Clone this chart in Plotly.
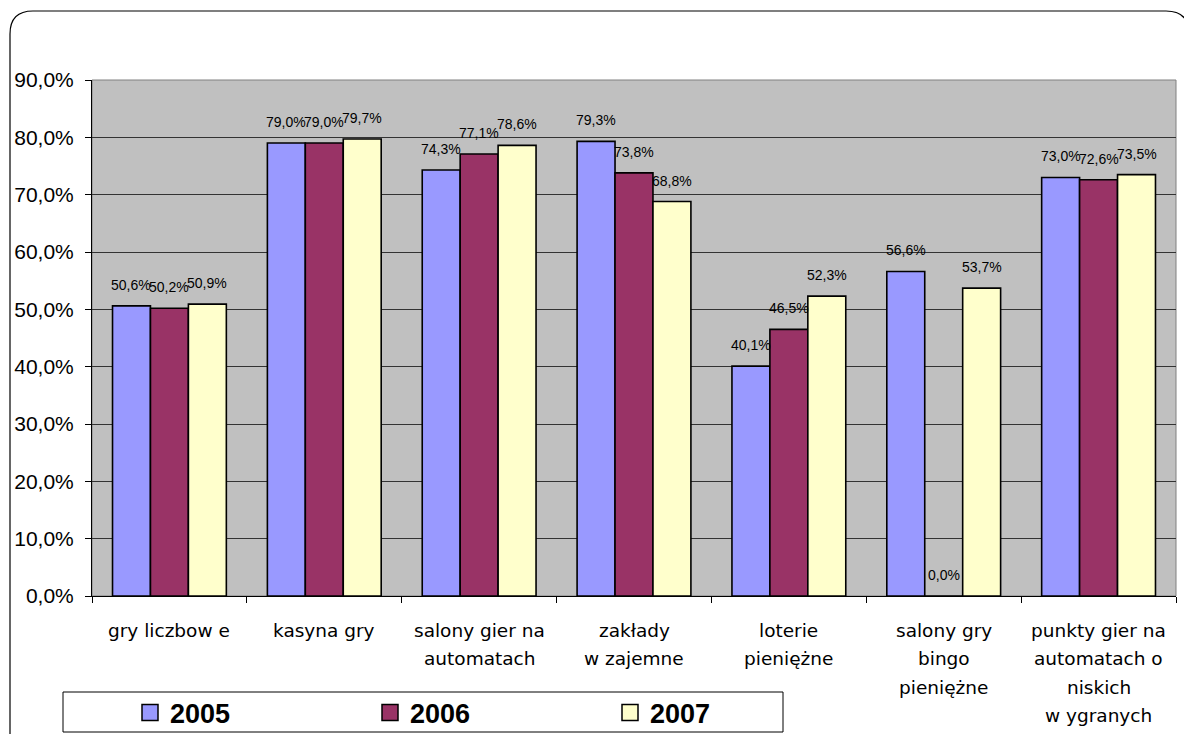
import plotly.graph_objects as go

categories = ["gry liczbow e", "kasyna gry", "salony gier na automatach", "zakłady w zajemne",
              "loterie pieniężne", "salony gry bingo pieniężne",
              "punkty gier na automatach o niskich w ygranych"]
tick_lines = [["gry liczbow e"], ["kasyna gry"], ["salony gier na", "automatach"],
              ["zakłady", "w zajemne"], ["loterie", "pieniężne"],
              ["salony gry", "bingo", "pieniężne"],
              ["punkty gier na", "automatach o", "niskich", "w ygranych"]]
series_names = ["2005", "2006", "2007"]
v2005 = [0.506, 0.790, 0.743, 0.793, 0.401, 0.566, 0.730]
v2006 = [0.502, 0.790, 0.771, 0.738, 0.465, 0.000, 0.726]
v2007 = [0.509, 0.797, 0.786, 0.688, 0.523, 0.537, 0.735]
series_values = [v2005, v2006, v2007]
colors = ["#9999FF", "#993366", "#FFFFCC"]
y_ticks = [0.0, 0.1, 0.2, 0.3, 0.4, 0.5, 0.6, 0.7, 0.8, 0.9]

FONT = "Liberation Sans, Arial, sans-serif"
CAT_FONT = "DejaVu Sans, Liberation Sans, sans-serif"

def fmt(v):
    return f"{v*100:.1f}%".replace(".", ",")

# screen geometry (page has 8px body margin)
OFF = 8
SW, SH = 1192, 734
PL, PR, PT, PB = 92, 1176, 80, 596   # plot area in screen px
pw, ph = PR - PL, PB - PT
BARGAP = 0.265
n_series = len(series_names)
bar_px = pw / len(categories) * (1 - BARGAP) / n_series

def px(xs):
    return (xs - PL) / pw

def py(ys):
    return (PB - ys) / ph

fig = go.Figure()
for name, vals, col in zip(series_names, series_values, colors):
    fig.add_trace(go.Bar(
        x=categories, y=vals, name=name, showlegend=False,
        marker=dict(color=col, line=dict(color="black", width=1.6)),
    ))
# legend keys
for name, col in zip(series_names, colors):
    fig.add_trace(go.Scatter(
        x=[categories[0]], y=[None], name=name, mode="markers",
        marker=dict(symbol="square", size=18, color=col, line=dict(color="black", width=1.5)),
        showlegend=True, hoverinfo="skip",
    ))

annotations = []
# data labels above the bars
for si, vals in enumerate(series_values):
    for cat, v in zip(categories, vals):
        annotations.append(dict(x=cat, xref="x", y=v, yref="y", text=fmt(v), showarrow=False,
                                xshift=(si - (n_series - 1) / 2) * bar_px, yshift=21,
                                yanchor="middle", xanchor="center",
                                font=dict(family=FONT, size=14, color="black")))
# category labels
for cat, lines in zip(categories, tick_lines):
    for i, line in enumerate(lines):
        annotations.append(dict(x=cat, xref="x", y=0, yref="paper", text=line,
                                showarrow=False, yanchor="middle", yshift=-34 - 28.5 * i,
                                font=dict(family=CAT_FONT, size=18.5, color="black")))

# outer rounded border
r = 23
x0, x1 = 10, 1189
y0, y1 = 11, 780
rx, ry = r / pw, r / ph
path = (f"M {px(x0)},{py(y1)} L {px(x0)},{py(y0)-ry} Q {px(x0)},{py(y0)} {px(x0)+rx},{py(y0)} "
        f"L {px(x1)-rx},{py(y0)} Q {px(x1)},{py(y0)} {px(x1)},{py(y0)-ry} L {px(x1)},{py(y1)}")

shapes = [
    dict(type="path", xref="paper", yref="paper", path=path,
         line=dict(color="black", width=1.2), layer="below"),
    dict(type="rect", xref="paper", yref="paper", x0=0, x1=1, y0=0, y1=1,
         line=dict(color="#808080", width=1), layer="below"),
    dict(type="rect", xref="paper", yref="paper", x0=px(63), x1=px(783), y0=py(732), y1=py(692),
         line=dict(color="black", width=1), fillcolor="white", layer="below"),
]

fig.update_layout(
    width=SW - OFF, height=SH - OFF,
    margin=dict(l=PL - OFF, r=SW - PR, t=PT - OFF, b=SH - PB, autoexpand=False),
    paper_bgcolor="white", plot_bgcolor="#C0C0C0",
    separators=", ",
    barmode="group", bargap=BARGAP, bargroupgap=0,
    font=dict(family=FONT, color="black"),
    showlegend=True,
    legend=dict(orientation="h", x=px(130), xanchor="left", y=py(713), yanchor="middle",
                bgcolor="rgba(0,0,0,0)", borderwidth=0,
                entrywidth=195, entrywidthmode="pixels",
                font=dict(family=FONT, size=27, color="black", weight="bold")),
    annotations=annotations,
    shapes=shapes,
)
fig.update_xaxes(showticklabels=False, ticks="outside", tickson="boundaries", ticklen=6,
                 tickcolor="black", showline=True, linecolor="black", linewidth=1,
                 showgrid=False)
fig.update_yaxes(range=[0, 0.9], tickvals=y_ticks, tickformat=".1%", ticks="outside", ticklen=6,
                 tickcolor="black", showline=True, linecolor="black", linewidth=1,
                 showgrid=True, gridcolor="#333333", gridwidth=1, zeroline=False,
                 ticklabelstandoff=7,
                 tickfont=dict(family=FONT, size=21, color="black"))

fig.write_html("out.html")
